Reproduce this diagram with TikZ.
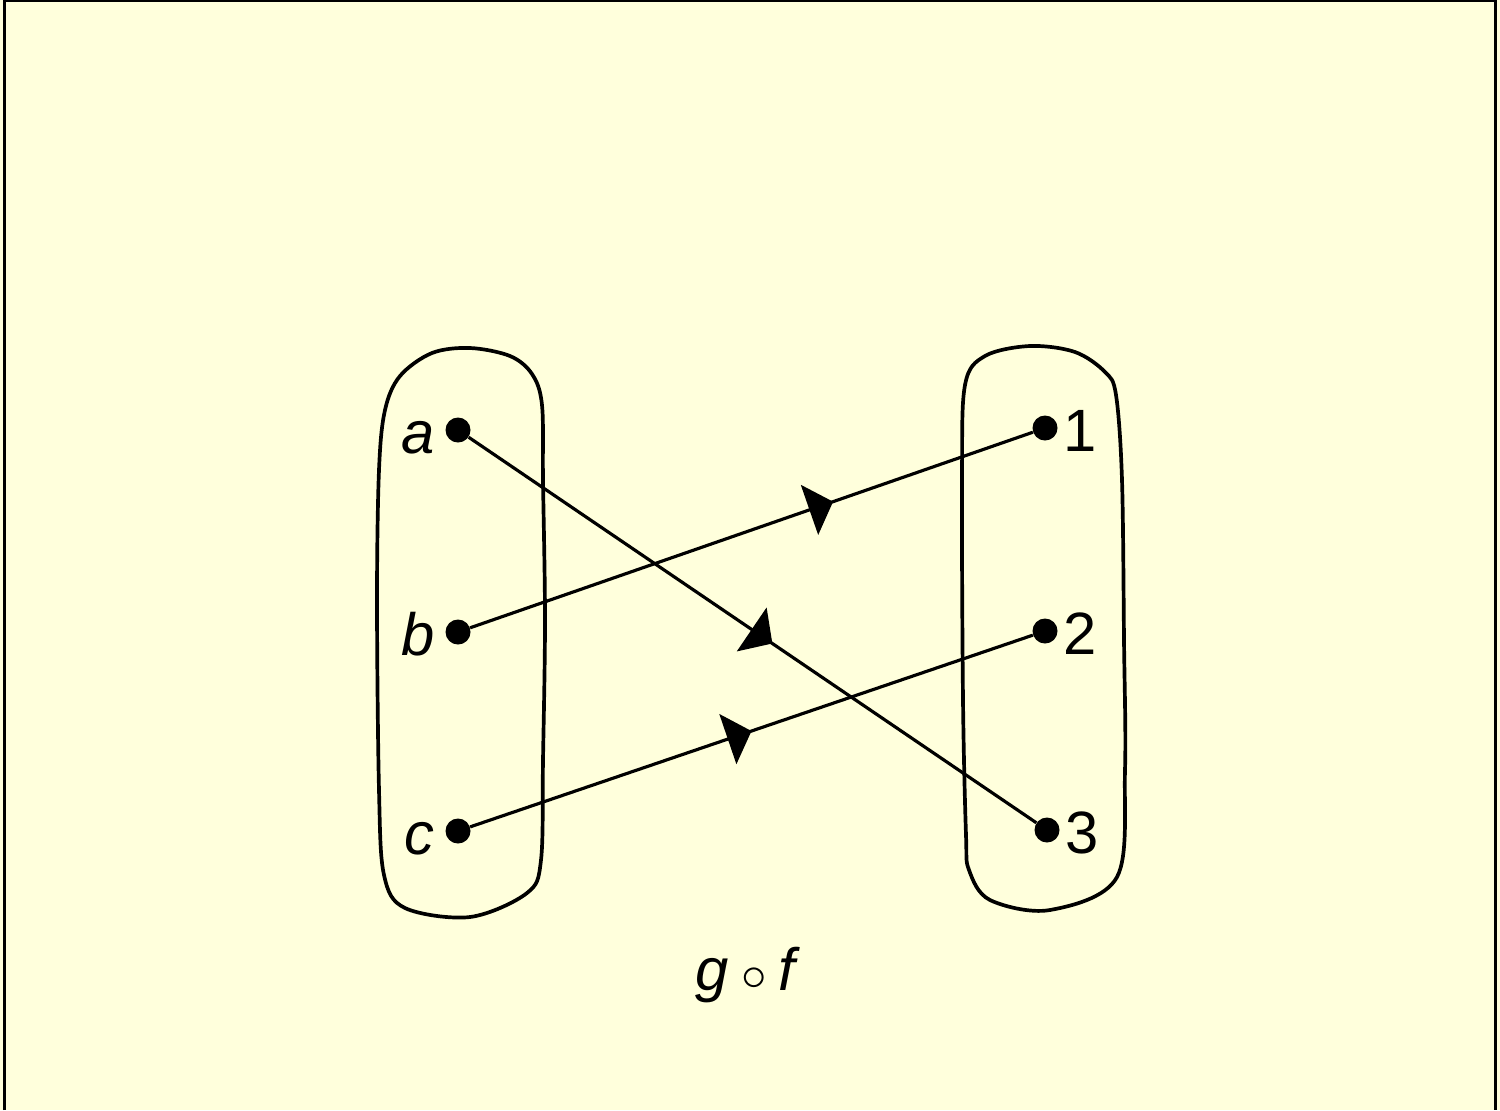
\documentclass[tikz,border=0pt]{standalone}
\usepackage{fix-cm}
\usepackage{fontspec}
\setmainfont{Liberation Sans}
\usetikzlibrary{arrows.meta,decorations.markings}
\definecolor{paper}{HTML}{FFFFDC}

\tikzset{
  dot/.style={circle,fill=black,inner sep=0pt,minimum size=0.5cm},
  dotlbl/.style={inner sep=2pt,text height=27pt,text depth=0pt},
  setline/.style={line width=2.1pt,line join=round},
  maparrow/.style={line width=1.8pt,postaction={decorate},
    decoration={markings,mark=at position #1 with {\arrow{Triangle[length=0.5cm,width=1.05cm]}}}},
}

\begin{document}
\begin{tikzpicture}[x=0.02cm,y=-0.02cm,font=\fontsize{34}{40}\selectfont]
    \useasboundingbox (0,0) rectangle (1500,1110);
    % frame
    \fill[paper] (0,0) rectangle (1500,1110);
    \draw[line width=1.7pt] (4.5,1110) -- (4.5,0.8) -- (1495,0.8) -- (1495,1110);
    % sets
    \draw[setline] plot[smooth cycle,tension=0.55] coordinates {(470,348) (510,356) (532,374) (542,405) (543,480) (545,620) (543,760) (541,860) (527,893) (470,917) (405,908) (384,875) (379,790) (377,600) (379,470) (385,410) (400,376) (432,353)};
    \draw[setline] plot[smooth cycle,tension=0.55] coordinates {(1030,346) (1075,352) (1105,372) (1116,395) (1122,480) (1124,640) (1125,770) (1117,877) (1050,910) (990,900) (969,870) (966,835) (963,700) (962,480) (965,385) (985,356)};
    % elements
    \node[dot,label={[dotlbl,label distance=4pt]left:\textit{a}}] (a) at (458,430) {};
    \node[dot,label={[dotlbl,label distance=4pt]left:\textit{b}}] (b) at (458,632) {};
    \node[dot,label={[dotlbl,label distance=4pt]left:\textit{c}}] (c) at (458,831) {};
    \node[dot,label={[dotlbl,label distance=1pt]right:1}] (n1) at (1045,428) {};
    \node[dot,label={[dotlbl,label distance=1pt]right:2}] (n2) at (1045,631) {};
    \node[dot,label={[dotlbl,label distance=1pt]right:3}] (n3) at (1047,830) {};
    % map
    \draw[maparrow=0.535] (a) -- (n3);
    \draw[maparrow=0.645] (b) -- (n1);
    \draw[maparrow=0.50] (c) -- (n2);
    \node (comp) at (748,975) {\textit{g}\hspace{0.2em}{\fontsize{29}{29}\selectfont$\circ$}\hspace{0.2em}\textit{f}};
\end{tikzpicture}
\end{document}
